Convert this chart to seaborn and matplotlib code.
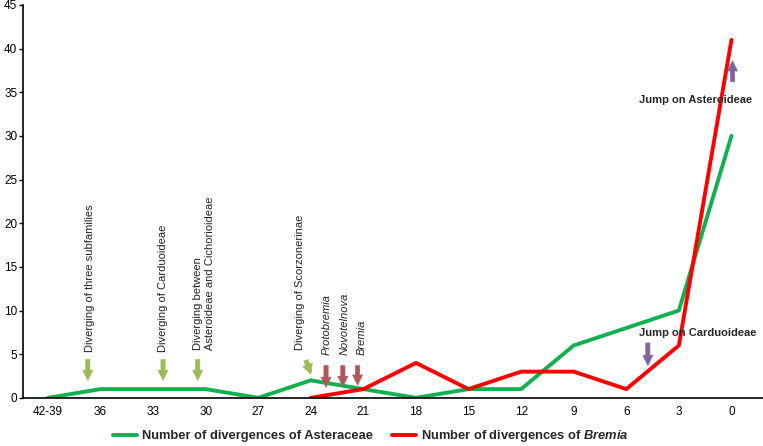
import numpy as np
import pandas as pd
import matplotlib
matplotlib.use('Agg')
import matplotlib.pyplot as plt
import seaborn as sns

# Datos.
Categorias = ['42-39', '36', '33', '30', '27', '24', '21', '18', '15', '12', '9', '6', '3', '0']
Asteraceae = [0, 1, 1, 1, 0, 2, 1, 0, 1, 1, 6, 8, 10, 30]
Bremia = [np.nan, np.nan, np.nan, np.nan, np.nan, 0, 1, 4, 1, 3, 3, 1, 6, 41]
Ticks_Y = [0, 5, 10, 15, 20, 25, 30, 35, 40, 45]

Verde = '#12b04f'
Rojo = '#ff0000'
Verde_Flecha = '#9bbb59'
Rojo_Flecha = '#b0575a'
Violeta = '#8064a2'

df = pd.DataFrame({'pos': np.arange(len(Categorias)), 'Asteraceae': Asteraceae, 'Bremia': Bremia})

sns.set_theme(style='white')
plt.rcParams['font.family'] = ['Liberation Sans', 'DejaVu Sans']
plt.rcParams['mathtext.fontset'] = 'custom'
plt.rcParams['mathtext.it'] = 'Liberation Sans:italic:bold'
plt.rcParams['mathtext.rm'] = 'Liberation Sans:bold'

Figure, Grafico = plt.subplots(figsize=(7.63, 4.46), dpi=100)
Figure.subplots_adjust(left=0.030, right=1.0, bottom=0.108, top=0.989)

sns.lineplot(x='pos', y='Asteraceae', data=df, ax=Grafico, color=Verde, linewidth=2.8,
             label='Number of divergences of Asteraceae')
sns.lineplot(x='pos', y='Bremia', data=df.dropna(), ax=Grafico, color=Rojo, linewidth=2.8,
             label='Number of divergences of $\\it{Bremia}$')

Grafico.set_xlim(-0.475, 13.6)
Grafico.set_ylim(0, 45)
Grafico.set_xticks(df['pos'])
Grafico.set_xticklabels(Categorias, fontsize=8.5)
Grafico.set_yticks(Ticks_Y)
Grafico.set_yticklabels([str(v) for v in Ticks_Y], fontsize=8.5)
Grafico.set_xlabel('')
Grafico.set_ylabel('')
Grafico.tick_params(axis='y', length=3, width=1, direction='out', left=True, pad=1, colors='black')
Grafico.tick_params(axis='x', length=0, pad=6, colors='black')
for lado in ['top', 'right']:
    Grafico.spines[lado].set_visible(False)
for lado in ['left', 'bottom']:
    Grafico.spines[lado].set_color('black')
    Grafico.spines[lado].set_linewidth(1.2)

# Textos verticales.
def Texto_Vertical(x, y, texto, **kw):
    Grafico.text(x, y, texto, rotation=90, rotation_mode='anchor', ha='left', va='center',
                 multialignment='left', fontsize=8, color='#222222', **kw)

def Flecha(x0, y0, x1, y1, color):
    Grafico.annotate('', xy=(x1, y1), xytext=(x0, y0),
                     arrowprops=dict(arrowstyle='simple,head_length=0.6,head_width=0.6,tail_width=0.25',
                                     color=color, lw=0.5))

Texto_Vertical(0.80, 5.3, 'Diverging of three subfamilies')
Texto_Vertical(2.19, 5.3, 'Diverging of Carduoideae')
Texto_Vertical(2.97, 5.5, 'Diverging between\nAsteroideae and Cichorioideae')
Texto_Vertical(4.79, 5.5, 'Diverging of Scorzonerinae')
Texto_Vertical(5.30, 4.9, 'Protobremia', style='italic')
Texto_Vertical(5.65, 4.9, 'Novotelnova', style='italic')
Texto_Vertical(5.97, 4.9, 'Bremia', style='italic')

Flecha(0.76, 4.7, 0.76, 1.7, Verde_Flecha)
Flecha(2.19, 4.7, 2.19, 1.7, Verde_Flecha)
Flecha(2.85, 4.7, 2.85, 1.7, Verde_Flecha)
Flecha(4.89, 4.6, 5.02, 2.4, Verde_Flecha)
Flecha(5.29, 4.0, 5.29, 0.9, Rojo_Flecha)
Flecha(5.61, 4.0, 5.61, 1.0, Rojo_Flecha)
Flecha(5.89, 4.0, 5.89, 1.15, Rojo_Flecha)
Flecha(13.02, 35.9, 13.02, 38.9, Violeta)
Flecha(11.41, 6.6, 11.41, 3.4, Violeta)

Grafico.text(12.32, 34.1, 'Jump on Asteroideae', ha='center', va='center', fontsize=8, fontweight='bold')
Grafico.text(12.36, 7.4, 'Jump on Carduoideae', ha='center', va='center', fontsize=8, fontweight='bold')

# Leyenda abajo.
Grafico.get_legend().remove()
Handles, Labels = Grafico.get_legend_handles_labels()
Figure.legend(Handles, Labels, loc='lower center', bbox_to_anchor=(0.486, -0.022), ncol=2, frameon=False,
              prop={'weight': 'bold', 'size': 9.3}, handlelength=1.9, columnspacing=1.4, handletextpad=0.4)

plt.savefig('out.png', dpi=100)
